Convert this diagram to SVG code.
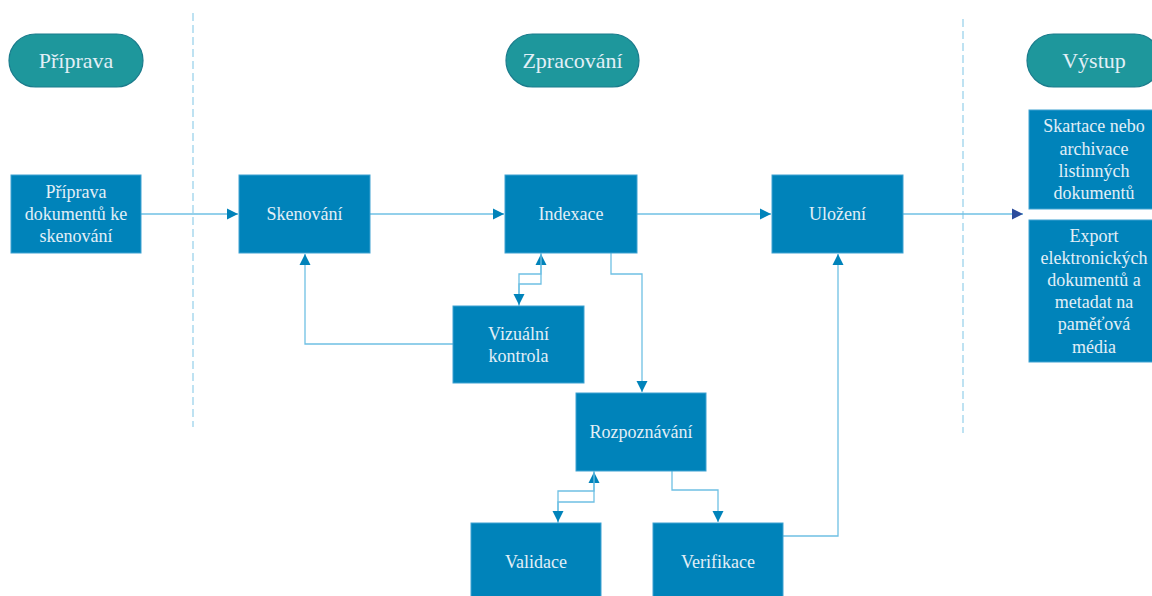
<svg xmlns="http://www.w3.org/2000/svg" width="1152" height="596" viewBox="0 0 1152 596">
<defs>
<style>
.pill{fill:#1e979c;stroke:#1b7c8c;stroke-width:1.2}
.box{fill:#0083ba;stroke:#3ea2d2;stroke-width:1}
.t{font-family:"Liberation Serif","Times New Roman",serif;fill:#e2eff7;text-anchor:middle;dominant-baseline:central}
.pt{font-size:22px}
.bt{font-size:18px}
.lane{stroke:#93cfe9;stroke-width:1.2;stroke-dasharray:8 4;fill:none}
.c{fill:none;stroke:#6fc0e4;stroke-width:1.3}
</style>
<marker id="ah" markerUnits="userSpaceOnUse" markerWidth="12" markerHeight="12" viewBox="0 0 12 12" refX="11" refY="6" orient="auto">
<path d="M0,0.5 L11,6 L0,11.5 Z" fill="#0083ba"/>
</marker>
<marker id="ahd" markerUnits="userSpaceOnUse" markerWidth="12" markerHeight="12" viewBox="0 0 12 12" refX="11" refY="6" orient="auto">
<path d="M0,0.5 L11,6 L0,11.5 Z" fill="#2c4c9c"/>
</marker>
</defs>
<rect width="1152" height="596" fill="#ffffff"/>
<g id="lanes">
<line class="lane" x1="193" y1="13" x2="193" y2="427"/>
<line class="lane" x1="963" y1="19" x2="963" y2="433"/>
</g>
<g id="pill-priprava"><rect class="pill" x="9" y="34" width="134" height="53" rx="26.5"/><text class="t pt" x="76" y="60.5">Příprava</text></g>
<g id="pill-zpracovani"><rect class="pill" x="506" y="34" width="133" height="53" rx="26.5"/><text class="t pt" x="572.5" y="60.5">Zpracování</text></g>
<g id="pill-vystup"><rect class="pill" x="1027" y="34" width="134" height="53" rx="26.5"/><text class="t pt" x="1094" y="60.5">Výstup</text></g>
<g id="connectors">
<path class="c" d="M141,214 H238" marker-end="url(#ah)"/>
<path class="c" d="M370,214 H504" marker-end="url(#ah)"/>
<path class="c" d="M637,214 H771" marker-end="url(#ah)"/>
<path class="c" d="M903,214 H1023" marker-end="url(#ahd)"/>
<path class="c" d="M453,344 H305 V254" marker-end="url(#ah)"/>
<path class="c" d="M519,306 V284 H541 V254" marker-end="url(#ah)"/>
<path class="c" d="M541,253 V274 H519 V305" marker-end="url(#ah)"/>
<path class="c" d="M611,253 V274 H642 V392" marker-end="url(#ah)"/>
<path class="c" d="M558,523 V502 H594 V472" marker-end="url(#ah)"/>
<path class="c" d="M594,471 V491 H558 V522" marker-end="url(#ah)"/>
<path class="c" d="M672,471 V490 H718 V522" marker-end="url(#ah)"/>
<path class="c" d="M783,536 H838 V254" marker-end="url(#ah)"/>
</g>
<g id="n-priprava-dok"><rect class="box" x="11" y="175" width="130" height="78"/><text class="t bt" x="76" y="192">Příprava</text><text class="t bt" x="76" y="214">dokumentů ke</text><text class="t bt" x="76" y="236">skenování</text></g>
<g id="n-skenovani"><rect class="box" x="239" y="175" width="131" height="78"/><text class="t bt" x="304.5" y="214">Skenování</text></g>
<g id="n-indexace"><rect class="box" x="505" y="175" width="132" height="78"/><text class="t bt" x="571" y="214">Indexace</text></g>
<g id="n-ulozeni"><rect class="box" x="772" y="175" width="131" height="78"/><text class="t bt" x="837.5" y="214">Uložení</text></g>
<g id="n-vizualni"><rect class="box" x="453" y="306" width="131" height="77"/><text class="t bt" x="518.5" y="333.5">Vizuální</text><text class="t bt" x="518.5" y="355.5">kontrola</text></g>
<g id="n-rozpoznavani"><rect class="box" x="576" y="393" width="130" height="78"/><text class="t bt" x="641" y="432">Rozpoznávání</text></g>
<g id="n-validace"><rect class="box" x="471" y="523" width="130" height="78"/><text class="t bt" x="536" y="562">Validace</text></g>
<g id="n-verifikace"><rect class="box" x="653" y="523" width="130" height="78"/><text class="t bt" x="718" y="562">Verifikace</text></g>
<g id="n-skartace"><rect class="box" x="1029" y="110" width="130" height="99"/><text class="t bt" x="1094" y="126">Skartace nebo</text><text class="t bt" x="1094" y="148.5">archivace</text><text class="t bt" x="1094" y="170.5">listinných</text><text class="t bt" x="1094" y="193">dokumentů</text></g>
<g id="n-export"><rect class="box" x="1029" y="220" width="130" height="142"/><text class="t bt" x="1094" y="235.5">Export</text><text class="t bt" x="1094" y="257.7">elektronických</text><text class="t bt" x="1094" y="279.9">dokumentů a</text><text class="t bt" x="1094" y="302.1">metadat na</text><text class="t bt" x="1094" y="324.3">paměťová</text><text class="t bt" x="1094" y="346.5">média</text></g>
</svg>
